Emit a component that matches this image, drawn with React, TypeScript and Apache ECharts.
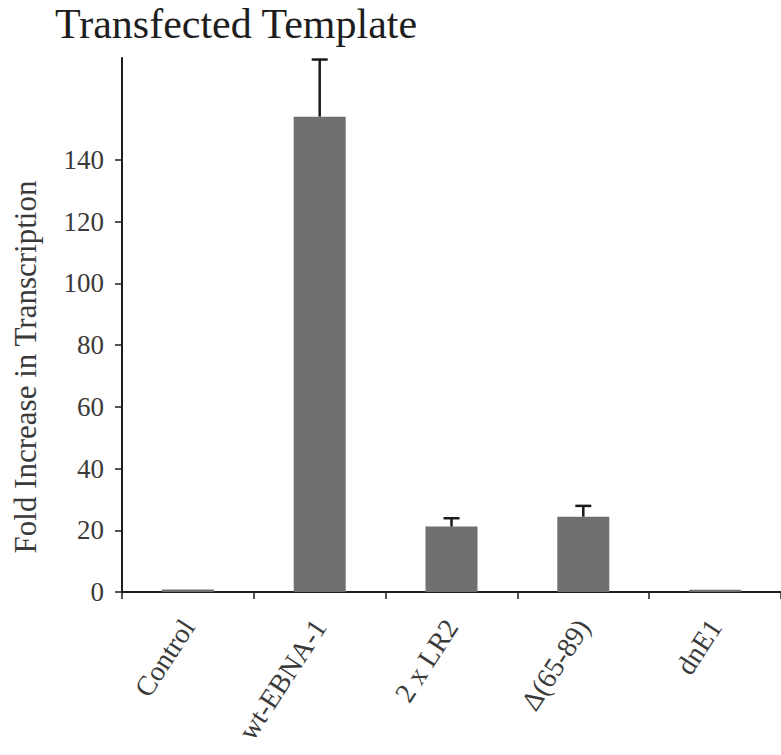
import React, { useEffect, useRef } from "react";
import * as echarts from "echarts";

// Transcription fold-increase per construct (transfected template)
const categories = ["Control", "wt-EBNA-1", "2 x LR2", "Δ(65-89)", "dnE1"];
const foldValues = [0.8, 154, 21.2, 24.4, 0.7];
const foldErrors = [0, 18.5, 2.7, 3.5, 0];
const yTickValues = [0, 20, 40, 60, 80, 100, 120, 140];

const SERIF = "'Liberation Serif', 'DejaVu Serif', serif";

export default function App() {
  const ref = useRef<HTMLDivElement>(null);

  useEffect(() => {
    if (!ref.current) return;
    const chart = echarts.init(ref.current, null, { renderer: "svg" });

    const errorData = categories.map((_, i) => [i, foldValues[i], foldErrors[i]]);

    chart.setOption({
      animation: false,
      backgroundColor: "#ffffff",
      grid: { left: 122, right: -6, top: 58, bottom: 163, containLabel: false },
      graphic: [
        {
          type: "text",
          left: 55,
          top: 3,
          style: {
            text: "Transfected Template",
            font: `42px ${SERIF}`,
            fill: "#1e1e1e",
          },
        },
        {
          type: "text",
          x: 25,
          y: 367,
          rotation: Math.PI / 2,
          style: {
            text: "Fold Increase in Transcription",
            font: `31px ${SERIF}`,
            fill: "#3a3a3a",
            align: "center",
            verticalAlign: "middle",
          },
        },
      ],
      xAxis: {
        type: "category",
        data: categories,
        boundaryGap: true,
        axisLine: { lineStyle: { color: "#1e1e1e", width: 2 } },
        axisTick: { show: true, length: 7, lineStyle: { color: "#1e1e1e", width: 1.5 } },
        axisLabel: {
          rotate: 57,
          margin: 30,
          fontFamily: SERIF,
          fontSize: 28,
          color: "#3a3a3a",
          interval: 0,
        },
      },
      yAxis: {
        type: "value",
        min: 0,
        max: 173,
        splitLine: { show: false },
        axisLine: { show: true, lineStyle: { color: "#1e1e1e", width: 2 } },
        axisTick: {
          show: true,
          length: 7,
          customValues: yTickValues,
          lineStyle: { color: "#1e1e1e", width: 1.5 },
        },
        axisLabel: {
          margin: 18,
          customValues: yTickValues,
          fontFamily: SERIF,
          fontSize: 27,
          color: "#3a3a3a",
        },
      },
      series: [
        {
          type: "bar",
          data: foldValues,
          barWidth: 52,
          itemStyle: { color: "#707070" },
          z: 2,
        },
        {
          type: "custom",
          data: errorData,
          z: 3,
          renderItem: (params: any, api: any) => {
            const idx = api.value(0);
            const v = api.value(1);
            const e = api.value(2);
            if (!e) return null;
            const base = api.coord([idx, v]);
            const top = api.coord([idx, v + e]);
            const hw = 8;
            const style = { stroke: "#1a1a1a", lineWidth: 2.5 };
            return {
              type: "group",
              children: [
                {
                  type: "line",
                  shape: { x1: base[0], y1: base[1], x2: top[0], y2: top[1] },
                  style,
                },
                {
                  type: "line",
                  shape: { x1: top[0] - hw, y1: top[1], x2: top[0] + hw, y2: top[1] },
                  style,
                },
              ],
            };
          },
        },
      ],
    });

    return () => chart.dispose();
  }, []);

  return (
    <div
      ref={ref}
      style={{ position: "absolute", left: 0, top: 0, width: 781, height: 755 }}
    />
  );
}
